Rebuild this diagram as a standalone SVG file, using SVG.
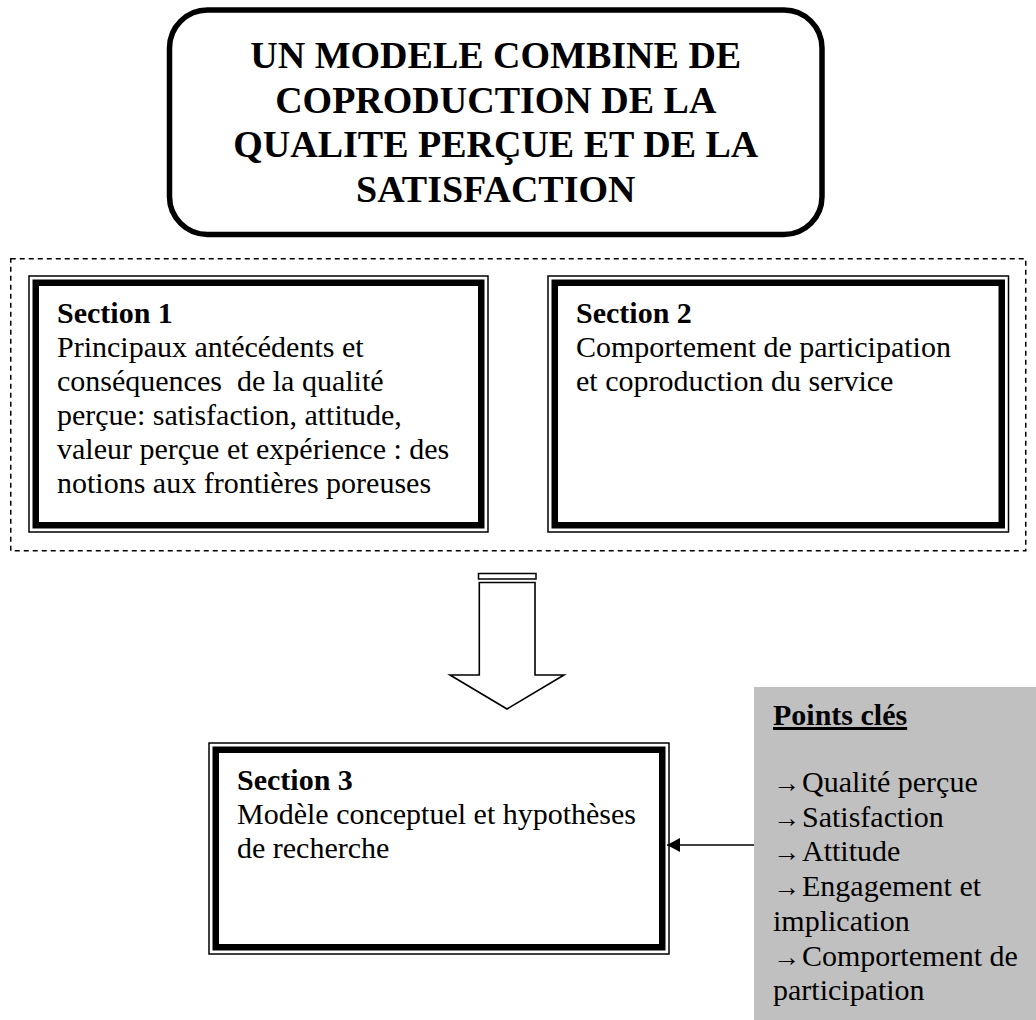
<svg xmlns="http://www.w3.org/2000/svg" width="1036" height="1020" viewBox="0 0 1036 1020">
<defs>
<style>
text{font-family:"Liberation Serif","Times New Roman",serif;fill:#000}
.title{font-size:38px;font-weight:bold;text-anchor:middle}
.h{font-size:30px;font-weight:bold}
.b{font-size:30px}
.ar{font-size:27px}
.thin{fill:none;stroke:#000;stroke-width:1.5}
.thick{fill:none;stroke:#000;stroke-width:6.5}
</style>
<marker id="ah" markerWidth="14" markerHeight="14" refX="13" refY="7" orient="auto" markerUnits="userSpaceOnUse">
<path d="M0,0 L13,7 L0,14 Z" fill="#000"/>
</marker>
</defs>
<rect width="1036" height="1020" fill="#fff"/>

<g id="title">
<rect x="169.5" y="10" width="652.5" height="224.5" rx="38" ry="38" fill="#fff" stroke="#000" stroke-width="5.5"/>
<text class="title" x="495.75" y="68">UN MODELE COMBINE DE</text>
<text class="title" x="495.75" y="112.5">COPRODUCTION DE LA</text>
<text class="title" x="495.75" y="157">QUALITE PERÇUE ET DE LA</text>
<text class="title" x="495.75" y="201.5">SATISFACTION</text>
</g>

<g id="group-frame">
<rect x="10.75" y="258.75" width="1015" height="292" fill="none" stroke="#000" stroke-width="1.5" stroke-dasharray="5 4"/>
</g>

<g id="section1">
<rect class="thin" x="29" y="276" width="459" height="256"/>
<rect class="thick" x="35.75" y="282.75" width="445.5" height="242.5"/>
<text class="h" x="57" y="323">Section 1</text>
<text class="b" x="57" y="357">Principaux antécédents et</text>
<text class="b" x="57" y="391" xml:space="preserve">conséquences  de la qualité</text>
<text class="b" x="57" y="425">perçue: satisfaction, attitude,</text>
<text class="b" x="57" y="459">valeur perçue et expérience : des</text>
<text class="b" x="57" y="493">notions aux frontières poreuses</text>
</g>

<g id="section2">
<rect class="thin" x="548" y="276" width="460.5" height="256"/>
<rect class="thick" x="554.75" y="282.75" width="447" height="242.5"/>
<text class="h" x="576" y="323">Section 2</text>
<text class="b" x="576" y="357">Comportement de participation</text>
<text class="b" x="576" y="391">et coproduction du service</text>
</g>

<g id="down-arrow">
<rect x="478.5" y="573.5" width="57.5" height="5.5" fill="#fff" stroke="#000" stroke-width="1.5"/>
<path d="M479.3,582.5 L535,582.5 L535,675 L564,675 L507,709 L450,675 L479.3,675 Z" fill="#fff" stroke="#000" stroke-width="1.6" stroke-linejoin="miter"/>
</g>

<g id="section3">
<rect class="thin" x="209" y="743" width="460" height="211"/>
<rect class="thick" x="215.75" y="749.75" width="446.5" height="197.5"/>
<text class="h" x="237" y="790">Section 3</text>
<text class="b" x="237" y="824">Modèle conceptuel et hypothèses</text>
<text class="b" x="237" y="858">de recherche</text>
</g>

<g id="points-cles">
<rect x="754" y="687" width="290" height="340" fill="#c0c0c0"/>
<text class="h" x="773" y="725" text-decoration="underline">Points clés</text>
<text class="ar" x="773" y="792">→</text><text class="b" x="802" y="792">Qualité perçue</text>
<text class="ar" x="773" y="826.7">→</text><text class="b" x="802" y="826.7">Satisfaction</text>
<text class="ar" x="773" y="861.4">→</text><text class="b" x="802" y="861.4">Attitude</text>
<text class="ar" x="773" y="896">→</text><text class="b" x="802" y="896">Engagement et</text>
<text class="b" x="773" y="930.8">implication</text>
<text class="ar" x="773" y="965.5">→</text><text class="b" x="802" y="965.5">Comportement de</text>
<text class="b" x="773" y="1000">participation</text>
</g>

<g id="connectors">
<line x1="754" y1="845" x2="667" y2="845" stroke="#000" stroke-width="1.5" marker-end="url(#ah)"/>
</g>
</svg>
